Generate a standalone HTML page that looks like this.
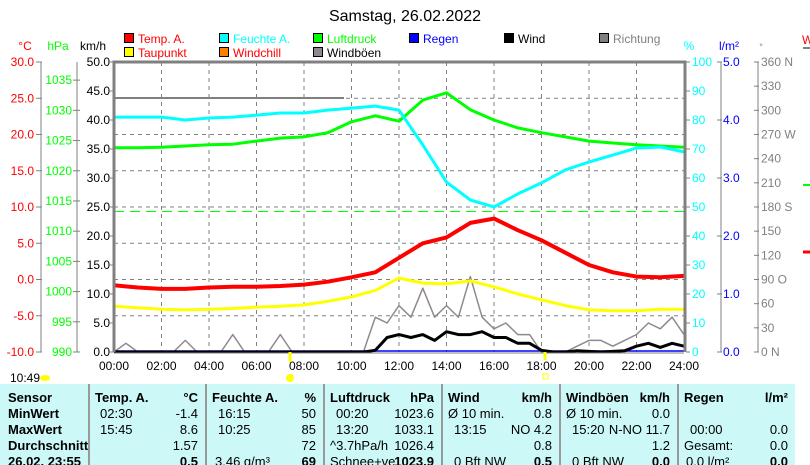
<!DOCTYPE html>
<html><head><meta charset="utf-8">
<style>
body{margin:0;background:#fff;font-family:"Liberation Sans",sans-serif;}
#wrap{position:relative;width:810px;height:465px;overflow:hidden;background:#fff;}
svg{position:absolute;left:0;top:0;}
text{font-family:"Liberation Sans",sans-serif;}
#tbl{position:absolute;left:0;top:384px;width:795px;height:81px;background:#ccf8f8;font-size:13px;}
.sep{position:absolute;top:0;width:2px;height:81px;background:#999;}
.r{position:absolute;white-space:nowrap;line-height:15px;}
.b{font-weight:bold;}
</style></head><body>
<div id="wrap">
<svg id="chart" width="810" height="384"></svg>
<div id="tbl"></div>
</div>
<script>
// ---- data ----
const hours=[0,1,2,3,4,5,6,7,8,9,10,11,12,13,14,15,16,17,18,19,20,21,22,23,24];
const tempVals=[-0.8,-1.1,-1.3,-1.3,-1.1,-1.0,-1.0,-0.9,-0.7,-0.3,0.3,1.0,3.0,5.0,5.8,7.8,8.4,6.8,5.4,3.7,2.0,1.0,0.4,0.3,0.5];
const dewVals=[-3.7,-3.9,-4.1,-4.2,-4.1,-4.0,-3.8,-3.7,-3.5,-3.0,-2.4,-1.5,0.2,-0.5,-0.6,-0.2,-1.0,-2.0,-2.8,-3.6,-4.2,-4.3,-4.3,-4.1,-4.1];
const humVals=[81,81,81,80,80.7,81,81.7,82.4,82.4,83.4,84.1,84.8,83.4,71.4,58.6,52.4,50,54.5,58.3,62.8,65.5,67.9,70.3,70.7,69];
const presVals=[1023.8,1023.8,1023.9,1024.1,1024.3,1024.4,1024.9,1025.4,1025.6,1026.3,1028.1,1029.1,1028.2,1031.7,1032.9,1030.1,1028.4,1027.1,1026.3,1025.6,1024.9,1024.6,1024.3,1024.1,1023.9];
const halfHours=[0,0.5,1,1.5,2,2.5,3,3.5,4,4.5,5,5.5,6,6.5,7,7.5,8,8.5,9,9.5,10,10.5,11,11.5,12,12.5,13,13.5,14,14.5,15,15.5,16,16.5,17,17.5,18,18.5,19,19.5,20,20.5,21,21.5,22,22.5,23,23.5,24];
const windVals=[0,0,0,0,0,0,0,0,0,0,0,0,0,0,0,0,0,0,0,0,0,0,0.3,2.5,3,2.5,3,2,3.5,3,3,3.5,2.5,2.5,1.5,1.5,0.3,0,0,0.2,0.1,0,0.1,0.2,1,1.5,0.8,1.5,1];
const gustVals=[0,1.5,0,0,0,0,2,0,0,0,3,0,0,0,3,0,0,0,0,0,0,0,6,5,8,6,11,6,8,6,13,6,4,5,3,3,0,0,0,1,2,2,1,2,3,5,4,6,3];
const tempTicks=[30,25,20,15,10,5,0,-5,-10];
const presTicks=[1035,1030,1025,1020,1015,1010,1005,1000,995,990];
const kmhTicks=[50,45,40,35,30,25,20,15,10,5,0];
const humTicks=[100,90,80,70,60,50,40,30,20,10,0];
const rainTicks=[5,4,3,2,1,0];
const dirTicks=[360,330,300,270,240,210,180,150,120,90,60,30,0];
const dirNames={360:"N",270:"W",180:"S",90:"O",0:"N"};
const timeLabels=["00:00","02:00","04:00","06:00","08:00","10:00","12:00","14:00","16:00","18:00","20:00","22:00","24:00"];

// ---- scales ----
const X0=114,X1=684,Y0=62,Y1=352;
const xs=h=>X0+(X1-X0)*h/24;
const yT=t=>Y1-(t+10)/40*(Y1-Y0);
const yP=p=>Y1-(p-990)/48*(Y1-Y0);
const yK=v=>Y1-v/50*(Y1-Y0);
const yH=h=>Y1-h/100*(Y1-Y0);
const yR=r=>Y1-r/5*(Y1-Y0);
const yD=d=>Y1-d/360*(Y1-Y0);

const NS="http://www.w3.org/2000/svg";
const svg=document.getElementById('chart');
function mk(tag,attrs){const e=document.createElementNS(NS,tag);for(const k in attrs)e.setAttribute(k,attrs[k]);svg.appendChild(e);return e;}
function txt(x,y,s,fill,anchor,size){const e=mk('text',{x:x,y:y,fill:fill,'text-anchor':anchor||'start'});e.style.fontSize=(size||12)+'px';e.textContent=s;return e;}

// title
let e=txt(405,21,"Samstag, 26.02.2022","#000","middle",16);



// legend
const legend=[[124,"Temp. A.","#f00","#f00"],[219,"Feuchte A.","#0ff","#0ff"],[313,"Luftdruck","#0f0","#0f0"],[409,"Regen","#00f","#00f"],[504,"Wind","#000","#000"],[599,"Richtung","#808080","#808080"],
[124,"Taupunkt","#ff0","#f00"],[219,"Windchill","#ff8000","#f00"],[313,"Windböen","#908890","#000"]];
legend.forEach((l,i)=>{const y=i<6?33:47;
 let r=mk('rect',{x:l[0]+0.5,y:y+0.5,width:9,height:9,fill:l[2],stroke:'#000'});
 
 
 let t=txt(l[0]+14,y+10,l[1],l[3]);
 
 
});

// axis unit headers
[[25,"°C","#f00",12],[58,"hPa","#0f0",12],[93,"km/h","#000",12],[689,"%","#0ff",12],[729,"l/m²","#00f",12],[761,"°","#808080",9]].forEach(a=>{
 let t=txt(a[0],50,a[1],a[2],"middle",a[3]);
 
 
});

// grid
hours.forEach(h=>{if(h%2===0&&h>0&&h<24){let g=mk('line',{x1:xs(h),y1:Y0,x2:xs(h),y2:Y1,stroke:'#808080','stroke-dasharray':'4,4'});
 
 }});
tempTicks.forEach(t=>{if(t<30&&t>-10){let g=mk('line',{x1:X0,y1:yT(t),x2:X1,y2:yT(t),stroke:'#808080','stroke-dasharray':'4,4'});
 
 }});

// left axes
let ax=mk('line',{x1:41,y1:Y0,x2:41,y2:Y1,stroke:'#808080'});


tempTicks.forEach(t=>{let l=mk('line',{x1:36,y1:yT(t),x2:42,y2:yT(t),stroke:'#808080'});
 
 
 let s=txt(34,yT(t)+4,t.toFixed(1),"#f00","end");
 
 });
ax=mk('line',{x1:77,y1:Y0,x2:77,y2:Y1,stroke:'#808080'});


presTicks.forEach(p=>{let l=mk('line',{x1:73,y1:yP(p),x2:80,y2:yP(p),stroke:'#808080'});
 
 
 let s=txt(72,yP(p)+4,String(p),"#0f0","end");
 
 });
kmhTicks.forEach(k=>{let l=mk('line',{x1:110,y1:yK(k),x2:114,y2:yK(k),stroke:'#808080'});
 
 
 let s=txt(110,yK(k)+4,k.toFixed(1),"#000","end");
 
 });

// right axes
humTicks.forEach(h=>{let l=mk('line',{x1:686,y1:yH(h),x2:690,y2:yH(h),stroke:'#808080'});
 
 
 let s=txt(692,yH(h)+4,String(h),"#0ff");
 
 });
ax=mk('line',{x1:721,y1:Y0,x2:721,y2:Y1,stroke:'#808080'});


rainTicks.forEach(r=>{let l=mk('line',{x1:717,y1:yR(r),x2:722,y2:yR(r),stroke:'#808080'});
 
 
 let s=txt(723,yR(r)+4,r.toFixed(1),"#00f");
 
 });
ax=mk('line',{x1:758,y1:Y0,x2:758,y2:Y1,stroke:'#808080'});


dirTicks.forEach(d=>{let l=mk('line',{x1:754,y1:yD(d),x2:759,y2:yD(d),stroke:'#808080'});
 
 
 let lab=String(d)+(dirNames[d]?(d<100?"   ":" ")+dirNames[d]:"");
 let s=txt(761,yD(d)+4,lab,"#808080");
 
 });

// x labels
timeLabels.forEach((t,i)=>{let s=txt(xs(i*2),370,t,"#000","middle");
 
 });

// standard pressure line & direction line
let sp=mk('line',{x1:X0,y1:yP(1013.25),x2:X1,y2:yP(1013.25),stroke:'#0f0','stroke-dasharray':'10,6'});


let dl=mk('line',{x1:X0,y1:98,x2:344,y2:98,stroke:'#808080','stroke-width':2});



function series(xsArr,vals,yf,col,w,name){
 const d=vals.map((v,i)=>(i?'L':'M')+xs(xsArr[i]).toFixed(1)+','+yf(v).toFixed(1)).join('');
 let p=mk('path',{d:d,fill:'none',stroke:col,'stroke-width':w,'stroke-linejoin':'round'});
 
 
}
series(halfHours,gustVals,yK,'#908890',1.5,'gust-series');
let rl=mk('line',{x1:X0,y1:Y1-1,x2:X1,y2:Y1-1,stroke:'#00f','stroke-width':1.5});


series(halfHours,windVals,yK,'#000',3,'wind-series');
series(hours,dewVals,yT,'#ff0',3,'dewpoint-series');
series(hours,presVals,yP,'#0f0',3,'pressure-series');
series(hours,humVals,yH,'#0ff',3,'humidity-series');
series(hours,tempVals,yT,'#f00',4,'temperature-series');

// plot frame
let fr=mk('path',{d:`M${X0},${Y1}V${Y0}H${X1+1}V${Y1}`,fill:'none',stroke:'#808080','stroke-width':3});


let bl=mk('line',{x1:X0,y1:Y1+1,x2:X1,y2:Y1+1,stroke:'#808080'});



// sunrise/sunset markers
let m1=mk('line',{x1:290,y1:Y1,x2:290,y2:362,stroke:'#ff0','stroke-width':3});


let m2=mk('line',{x1:545,y1:Y1,x2:545,y2:360,stroke:'#ff0','stroke-width':3});


let sun=mk('circle',{cx:290,cy:378,r:4,fill:'#ff0'});


let moon=mk('rect',{x:543,y:374,width:5,height:5,fill:'none',stroke:'#ff0'});


let tl=txt(10,382,"10:49","#000");


let cl=mk('ellipse',{cx:45,cy:378,rx:5,ry:3,fill:'#ff0'});



// right edge mini
let w=txt(802,44,"W","#f00");


let gl=mk('line',{x1:803,y1:48,x2:810,y2:48,stroke:'#808080','stroke-width':2});


let gl2=mk('line',{x1:803,y1:185,x2:810,y2:185,stroke:'#0f0','stroke-width':2});


let gl3=mk('line',{x1:803,y1:252,x2:810,y2:252,stroke:'#f00','stroke-width':3});



// ---- table ----
const tbl=document.getElementById('tbl');
const rowsTop=[6,22,38,54,70];
function cell(x,row,s,align,bold,name){const d=document.createElement('div');d.className='r'+(bold?' b':'');d.style.top=rowsTop[row]+'px';
 if(align==='r'){d.style.right=(795-x)+'px';}else d.style.left=x+'px';d.textContent=s;
 
 
 tbl.appendChild(d);}
[88,205,323,441,559,677].forEach(x=>{const s=document.createElement('div');s.className='sep';s.style.left=x+'px';
 
 
 tbl.appendChild(s);});
cell(8,0,"Sensor",'l',1);cell(8,1,"MinWert",'l',1);cell(8,2,"MaxWert",'l',1);cell(8,3,"Durchschnitt",'l',1);cell(8,4,"26.02. 23:55",'l',1);
cell(95,0,"Temp. A.",'l',1);cell(198,0,"°C",'r',1);cell(100,1,"02:30");cell(198,1,"-1.4",'r');cell(100,2,"15:45");cell(198,2,"8.6",'r');cell(198,3,"1.57",'r');cell(198,4,"0.5",'r',1);
cell(212,0,"Feuchte A.",'l',1);cell(316,0,"%",'r',1);cell(218,1,"16:15");cell(316,1,"50",'r');cell(218,2,"10:25");cell(316,2,"85",'r');cell(316,3,"72",'r');cell(215,4,"3.46 g/m³");cell(316,4,"69",'r',1);
cell(330,0,"Luftdruck",'l',1);cell(434,0,"hPa",'r',1);cell(336,1,"00:20");cell(434,1,"1023.6",'r');cell(336,2,"13:20");cell(434,2,"1033.1",'r');cell(330,3,"^3.7hPa/h");cell(434,3,"1026.4",'r');cell(330,4,"Schnee+ve");cell(434,4,"1023.9",'r',1);
cell(448,0,"Wind",'l',1);cell(552,0,"km/h",'r',1);cell(448,1,"Ø 10 min.");cell(552,1,"0.8",'r');cell(454,2,"13:15");cell(552,2,"NO 4.2",'r');cell(552,3,"0.8",'r');cell(454,4,"0 Bft NW");cell(552,4,"0.5",'r',1);
cell(566,0,"Windböen",'l',1);cell(670,0,"km/h",'r',1);cell(566,1,"Ø 10 min.");cell(670,1,"0.0",'r');cell(572,2,"15:20");cell(670,2,"N-NO 11.7",'r');cell(670,3,"1.2",'r');cell(572,4,"0 Bft NW");cell(670,4,"0.0",'r',1);
cell(684,0,"Regen",'l',1);cell(788,0,"l/m²",'r',1);cell(690,2,"00:00");cell(788,2,"0.0",'r');cell(684,3,"Gesamt:");cell(788,3,"0.0",'r');cell(686,4,"0.0 l/m²");cell(788,4,"0.0",'r',1);
</script>
</body></html>
